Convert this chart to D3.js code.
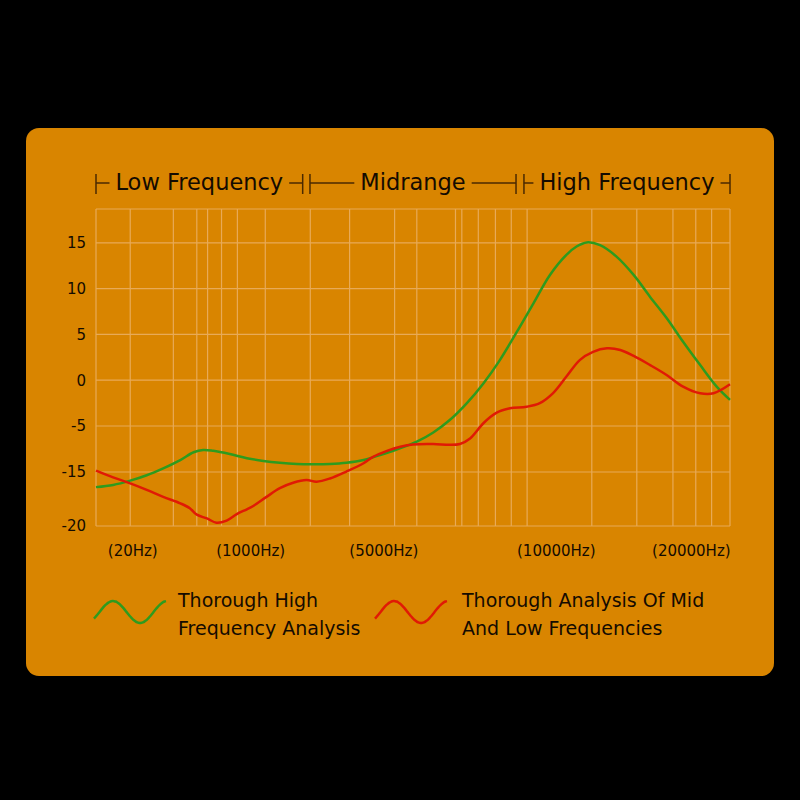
<!DOCTYPE html>
<html><head><meta charset="utf-8">
<script src="https://cdn.jsdelivr.net/npm/d3@7"></script>
<style>html,body{margin:0;padding:0;background:#000;} svg{display:block}</style>
</head><body>
<svg id="c" width="800" height="800"></svg>
<script>
// ---------- data ----------
const yTickLabels = [15, 10, 5, 0, -5, -15, -20];
const yTopValue = 18.7;
// vertical grid positions along the (non-uniform) frequency axis, in 0..100 axis units
const xGrid = [0, 5.4, 12.2, 15.9, 17.6, 19.8, 22.3, 26.7, 33.8, 40, 47.1, 50.6, 56.7, 57.7, 60.3, 63, 65.5, 68, 78.2, 85.3, 91, 94.6, 97.1, 100];
const xTickLabels = ["(20Hz)", "(1000Hz)", "(5000Hz)", "(10000Hz)", "(20000Hz)"];
const xTickPos = [5.8, 24.4, 45.4, 72.6, 93.9];
const sectionNames = ["Low Frequency", "Midrange", "High Frequency"];
const sectionFrom = [0, 33.75, 67.5];
const sectionTo = [32.6, 66.25, 100];
const seriesNames = [["Thorough High", "Frequency Analysis"], ["Thorough Analysis Of Mid", "And Low Frequencies"]];

const greenX = [0, 2.7, 5.4, 8, 10.6, 13.3, 15.4, 16.9, 18.5, 21.1, 23.8, 26.4, 29, 31.7, 34.3, 36.9, 39.5, 42.2, 44.8, 47.4, 50.6, 53.2, 55.8, 58.5, 61.1, 63.7, 66.4, 69, 71.6, 74.2, 75.8, 77.4, 79.5, 82.1, 84.8, 87.4, 90, 92.6, 95.3, 97.9, 100];
const greenY = [-16.4, -16.2, -15.8, -15.3, -14.2, -12.4, -10.7, -10.2, -10.4, -11.1, -12.0, -12.6, -13.0, -13.25, -13.3, -13.25, -13.0, -12.4, -11.3, -10.1, -8.4, -6.4, -4.35, -2.5, -0.35, 2.2, 5.3, 8.4, 11.5, 13.7, 14.6, 15.05, 14.75, 13.5, 11.5, 9.1, 6.8, 4.2, 1.65, -0.7, -2.15];

const redX = [0, 2.7, 5.4, 8, 10.6, 13.3, 14.8, 15.9, 17.5, 19, 20.6, 22.2, 23.8, 24.8, 26.9, 29, 31.1, 33.2, 34.8, 36.9, 39.5, 42.2, 43.7, 45.9, 48, 50, 53.2, 55.8, 57.4, 59, 61.1, 63.2, 65.3, 67.9, 70, 72.1, 74.2, 76.3, 78.4, 80.6, 82.7, 84.8, 87.4, 90, 92.6, 95.3, 97.4, 100];
const redY = [-14.7, -15.5, -16.05, -16.65, -17.3, -17.9, -18.35, -18.95, -19.3, -19.7, -19.5, -18.9, -18.45, -18.15, -17.3, -16.5, -16.0, -15.75, -15.9, -15.6, -14.9, -13.1, -11.7, -10.4, -9.5, -9.0, -8.9, -9.1, -8.9, -7.7, -4.7, -3.55, -3.07, -2.9, -2.5, -1.4, 0.4, 2.2, 3.1, 3.48, 3.3, 2.65, 1.65, 0.57, -0.7, -1.43, -1.43, -0.45];

// ---------- drawing ----------
const svg = d3.select("#c");
const FONT = "'DejaVu Sans', Verdana, sans-serif";
const BG = "#D98500";
const GRID = "#E8AA57";
const TEXT = "#140b00";
const GREEN = "#2E9B1E";
const RED = "#E01A05";

svg.append("rect").attr("width", 800).attr("height", 800).attr("fill", "#000");
svg.append("rect").attr("x", 26).attr("y", 128).attr("width", 748).attr("height", 548)
  .attr("rx", 13).attr("ry", 13).attr("fill", BG);

const x = d3.scaleLinear().domain([0, 100]).range([96, 730]);
const y = d3.scaleLinear().domain([-20, -15, -5, yTopValue]).range([526, 472, 426, 209]);

// grid
const g = svg.append("g");
g.selectAll("line.v").data(xGrid).join("line")
  .attr("x1", d => x(d)).attr("x2", d => x(d))
  .attr("y1", y(yTopValue)).attr("y2", y(-20))
  .attr("stroke", GRID).attr("stroke-width", 1.2);
g.selectAll("line.h").data([yTopValue, ...yTickLabels]).join("line")
  .attr("x1", x(0)).attr("x2", x(100))
  .attr("y1", d => y(d)).attr("y2", d => y(d))
  .attr("stroke", GRID).attr("stroke-width", 1.2);

// y labels
svg.append("g").selectAll("text").data(yTickLabels).join("text")
  .attr("x", 86).attr("y", d => y(d)).attr("dy", "0.36em")
  .attr("text-anchor", "end").attr("font-family", FONT).attr("font-size", 15)
  .attr("fill", TEXT).text(d => d);

// x labels
svg.append("g").selectAll("text").data(xTickLabels).join("text")
  .attr("x", (d, i) => x(xTickPos[i])).attr("y", 551).attr("dy", "0.36em")
  .attr("text-anchor", "middle").attr("font-family", FONT).attr("font-size", 15)
  .attr("fill", TEXT).text(d => d);

// section header brackets
const BR = "#4a2a00";
const hy = 183;
sectionNames.forEach((name, i) => {
  const x0 = x(sectionFrom[i]), x1 = x(sectionTo[i]);
  const cx = (x0 + x1) / 2;
  const t = svg.append("text").attr("x", cx).attr("y", 190)
    .attr("text-anchor", "middle").attr("font-family", FONT).attr("font-size", 22.5)
    .attr("fill", TEXT).text(name);
  const w = t.node().getComputedTextLength();
  const gap = 6;
  const tl = cx - w / 2 - gap, tr = cx + w / 2 + gap;
  const bg = svg.append("g").attr("stroke", BR).attr("stroke-width", 1.5);
  bg.append("line").attr("x1", x0).attr("x2", x0).attr("y1", hy - 9).attr("y2", hy + 11);
  bg.append("line").attr("x1", x1).attr("x2", x1).attr("y1", hy - 9).attr("y2", hy + 11);
  bg.append("line").attr("x1", x0).attr("x2", Math.max(tl, x0 + 5)).attr("y1", hy).attr("y2", hy);
  bg.append("line").attr("x1", Math.min(tr, x1 - 5)).attr("x2", x1).attr("y1", hy).attr("y2", hy);
});

// curves
const line = d3.line().x(d => x(d[0])).y(d => y(d[1])).curve(d3.curveCatmullRom.alpha(0.5));
svg.append("path").datum(greenX.map((v, i) => [v, greenY[i]]))
  .attr("d", line).attr("fill", "none").attr("stroke", GREEN).attr("stroke-width", 2.5);
svg.append("path").datum(redX.map((v, i) => [v, redY[i]]))
  .attr("d", line).attr("fill", "none").attr("stroke", RED).attr("stroke-width", 2.5);

// legend
const legendColors = [GREEN, RED];
const legendX = [94, 375];
const legendTextX = [178, 462];
const th0 = -0.204 * Math.PI, th1 = 2.46 * Math.PI;
legendColors.forEach((col, i) => {
  const pts = d3.range(0, 1.0001, 0.02).map(t => {
    const th = th0 + (th1 - th0) * t;
    return [legendX[i] + 72 * t, 612 - 11 * Math.sin(th)];
  });
  svg.append("path").attr("d", d3.line().curve(d3.curveBasis)(pts))
    .attr("fill", "none").attr("stroke", col).attr("stroke-width", 2.5);
  seriesNames[i].forEach((s, j) => {
    svg.append("text").attr("x", legendTextX[i]).attr("y", 607 + 28 * j)
      .attr("font-family", FONT).attr("font-size", 19).attr("fill", TEXT).text(s);
  });
});
</script>
</body></html>
